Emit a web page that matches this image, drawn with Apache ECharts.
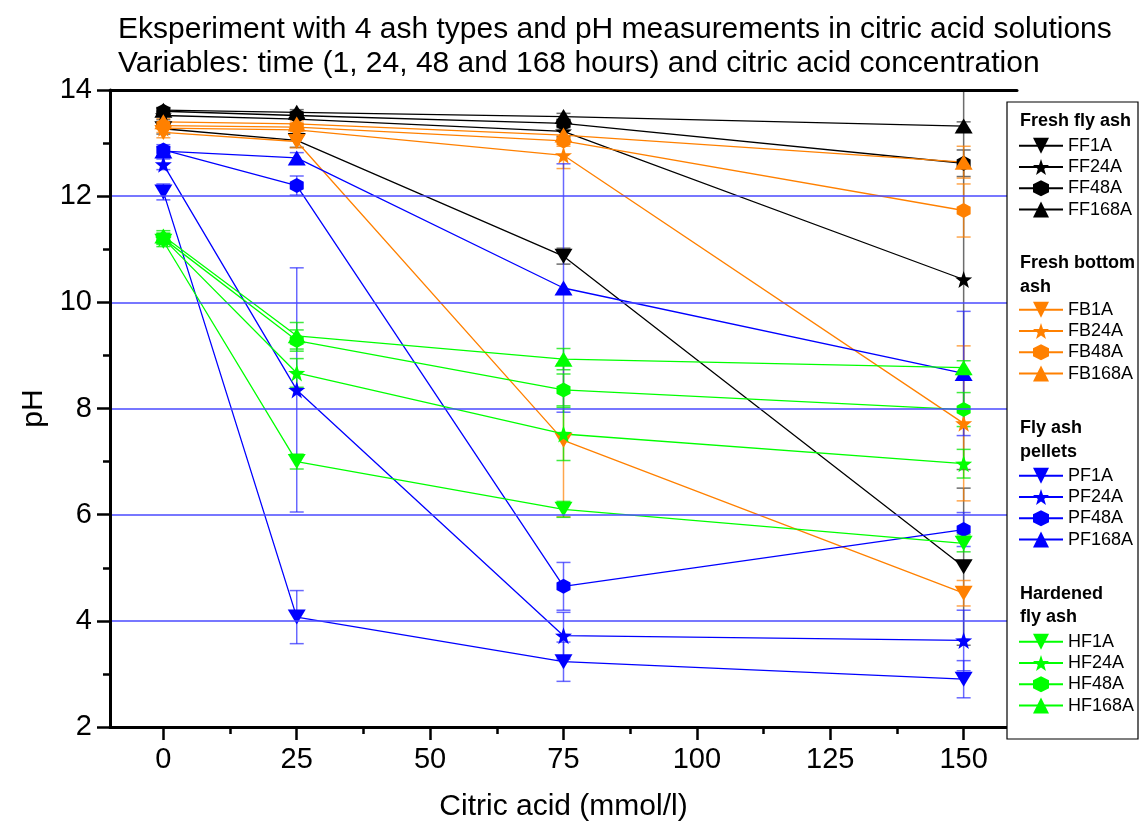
<!DOCTYPE html>
<html>
<head>
<meta charset="utf-8">
<script src="https://cdn.jsdelivr.net/npm/echarts@6/dist/echarts.min.js"></script>
<style>
  html, body { margin: 0; padding: 0; background: #fff; }
  #chart { width: 1139px; height: 827px; }
</style>
</head>
<body>
<div id="chart"></div>
<script>
// citric acid concentration (mmol/l)
var xs = [0, 25, 75, 150];
var xTicks = [0, 25, 50, 75, 100, 125, 150];
var xMinorTicks = [12.5, 37.5, 62.5, 87.5, 112.5, 137.5];

// pH values, one array per series, and the error of each point
var ff1a = [13.27, 13.05, 10.87, 5.02];
var ff24a = [13.52, 13.45, 13.22, 10.43];
var ff48a = [13.6, 13.52, 13.37, 12.62];
var ff168a = [13.62, 13.58, 13.5, 13.32];
var ff1aErr = [0.1, 0.13, 0.15, 1.48];
var ff24aErr = [0.08, 0.1, 0.1, 3.58];
var ff48aErr = [0.06, 0.06, 0.08, 0.25];
var ff168aErr = [0.05, 0.05, 0.06, 0.08];

var fb1a = [13.2, 13.03, 7.4, 4.52];
var fb24a = [13.28, 13.25, 12.77, 7.72];
var fb48a = [13.33, 13.3, 13.04, 11.73];
var fb168a = [13.4, 13.36, 13.15, 12.64];
var fb1aErr = [0.1, 0.12, 1.44, 0.24];
var fb24aErr = [0.08, 0.1, 0.25, 1.46];
var fb48aErr = [0.06, 0.08, 0.1, 0.5];
var fb168aErr = [0.06, 0.06, 0.08, 0.3];

var pf1a = [12.08, 4.07, 3.23, 2.9];
var pf24a = [12.6, 8.35, 3.72, 3.63];
var pf48a = [12.87, 12.2, 4.65, 5.72];
var pf168a = [12.85, 12.72, 10.27, 8.66];
var pf1aErr = [0.15, 0.5, 0.37, 0.35];
var pf24aErr = [0.1, 2.3, 0.44, 0.57];
var pf48aErr = [0.1, 0.18, 0.45, 0.32];
var pf168aErr = [0.08, 0.1, 2.34, 1.17];

var hf1a = [11.15, 7.0, 6.1, 5.46];
var hf24a = [11.2, 8.67, 7.52, 6.96];
var hf48a = [11.2, 9.28, 8.35, 7.98];
var hf168a = [11.25, 9.37, 8.93, 8.77];
var hf1aErr = [0.1, 0.14, 0.15, 0.16];
var hf24aErr = [0.1, 0.27, 0.5, 0.27];
var hf48aErr = [0.1, 0.2, 0.3, 0.32];
var hf168aErr = [0.1, 0.25, 0.2, 0.13];

var yMin = 2, yMax = 14;
var font = "'Liberation Sans', Arial, sans-serif";

// marker shapes
var downTri = 'path://M0,0 L2,0 L1,1.7 Z';
var upTri = 'path://M1,0 L2,1.7 L0,1.7 Z';
var star = 'path://M0,-1 L0.235,-0.324 L0.951,-0.309 L0.380,0.124 L0.588,0.809 L0,0.4 L-0.588,0.809 L-0.380,0.124 L-0.951,-0.309 L-0.235,-0.324 Z';
var hexagon = 'path://M0.866,0 L1.732,0.5 L1.732,1.5 L0.866,2 L0,1.5 L0,0.5 Z';

var groups = [
    {title: 'Fresh fly ash', color: '#000000', err: 'rgba(60,60,60,0.75)', names: ['FF1A', 'FF24A', 'FF48A', 'FF168A'],
        vals: [ff1a, ff24a, ff48a, ff168a], errs: [ff1aErr, ff24aErr, ff48aErr, ff168aErr]},
    {title: 'Fresh bottom\nash', color: '#ff8000', err: 'rgba(255,128,0,0.7)', names: ['FB1A', 'FB24A', 'FB48A', 'FB168A'],
        vals: [fb1a, fb24a, fb48a, fb168a], errs: [fb1aErr, fb24aErr, fb48aErr, fb168aErr]},
    {title: 'Fly ash\npellets', color: '#0000ff', err: 'rgba(40,40,255,0.7)', names: ['PF1A', 'PF24A', 'PF48A', 'PF168A'],
        vals: [pf1a, pf24a, pf48a, pf168a], errs: [pf1aErr, pf24aErr, pf48aErr, pf168aErr]},
    {title: 'Hardened\nfly ash', color: '#00ff00', err: 'rgba(0,230,0,0.75)', names: ['HF1A', 'HF24A', 'HF48A', 'HF168A'],
        vals: [hf1a, hf24a, hf48a, hf168a], errs: [hf1aErr, hf24aErr, hf48aErr, hf168aErr]}
];
var shapes = [downTri, star, hexagon, upTri];
var sizes = [[18, 15], 17, [14, 15], [18, 15]];

// error bars with caps
function errorBars(name, color, vals, errs) {
    return {
        type: 'custom',
        name: name + ' err',
        silent: true,
        clip: true,
        z: 2,
        data: xs.map(function (x, i) { return [x, vals[i], errs[i]]; }),
        encode: {x: 0, y: 1},
        renderItem: function (params, api) {
            var x = api.value(0), y = api.value(1), e = api.value(2);
            var hi = Math.min(y + e, yMax), lo = Math.max(y - e, yMin);
            var top = api.coord([x, hi]);
            var bot = api.coord([x, lo]);
            var w = 7;
            var st = {stroke: color, lineWidth: 1.5};
            return {
                type: 'group',
                children: [
                    {type: 'line', shape: {x1: top[0], y1: top[1], x2: bot[0], y2: bot[1]}, style: st},
                    {type: 'line', shape: {x1: top[0] - w, y1: top[1], x2: top[0] + w, y2: top[1]}, style: st},
                    {type: 'line', shape: {x1: bot[0] - w, y1: bot[1], x2: bot[0] + w, y2: bot[1]}, style: st}
                ]
            };
        }
    };
}

var series = [];
var legends = [];
var headers = [];
var legendTops = [136.7, 300.7, 466.7, 632.7];
var headerTops = [109, 251.7, 416.7, 582.4];

groups.forEach(function (g, gi) {
    g.names.forEach(function (n, i) {
        series.push(errorBars(n, g.err, g.vals[i], g.errs[i]));
        series.push({
            type: 'line',
            name: n,
            data: xs.map(function (x, k) { return [x, g.vals[i][k]]; }),
            symbol: shapes[i],
            symbolSize: sizes[i],
            showSymbol: true,
            z: 3,
            lineStyle: {color: g.color, width: 1.3},
            itemStyle: {color: g.color},
            emphasis: {disabled: true}
        });
    });
    legends.push({
        orient: 'vertical',
        left: 1018,
        top: legendTops[gi],
        padding: 0,
        itemWidth: 44,
        itemHeight: 20,
        itemGap: 3.3,
        z: 60,
        selectedMode: false,
        data: g.names,
        textStyle: {fontFamily: font, fontSize: 18, color: '#000'}
    });
    headers.push({
        type: 'text',
        left: 1020,
        top: headerTops[gi],
        z: 60,
        style: {text: g.title, font: 'bold 18px ' + font, lineHeight: 23.3, fill: '#000'}
    });
});

var myChart = echarts.init(document.getElementById('chart'));
var option = {
    animation: false,
    backgroundColor: '#fff',
    title: {
        text: 'Eksperiment with 4 ash types and pH measurements in citric acid solutions\nVariables: time (1, 24, 48 and 168 hours) and citric acid concentration',
        left: 118,
        top: 13,
        padding: 0,
        textStyle: {fontFamily: font, fontSize: 30, fontWeight: 'normal', color: '#000', lineHeight: 34}
    },
    grid: {left: 110, right: 122, top: 90, bottom: 98},
    legend: legends,
    graphic: [{
        type: 'rect',
        z: 50,
        shape: {x: 1007, y: 102, width: 131, height: 637},
        style: {fill: '#fff', stroke: '#000', lineWidth: 1.2}
    }].concat(headers),
    xAxis: [
        {
            type: 'value',
            min: -10,
            max: 160,
            position: 'bottom',
            z: 5,
            name: 'Citric acid (mmol/l)',
            nameLocation: 'middle',
            nameGap: 65,
            nameTextStyle: {fontFamily: font, fontSize: 30, color: '#000'},
            axisLine: {onZero: false, lineStyle: {color: '#000', width: 3}},
            axisTick: {customValues: xTicks, length: 13, lineStyle: {color: '#000', width: 2.5}},
            axisLabel: {customValues: xTicks, fontFamily: font, fontSize: 29, color: '#000', margin: 18},
            splitLine: {show: false}
        },
        {
            // minor ticks
            type: 'value',
            min: -10,
            max: 160,
            position: 'bottom',
            axisLine: {show: false},
            axisTick: {customValues: xMinorTicks, length: 7, lineStyle: {color: '#000', width: 2.5}},
            axisLabel: {show: false},
            splitLine: {show: false}
        },
        {
            // top border
            type: 'value',
            min: -10,
            max: 160,
            position: 'top',
            z: 5,
            axisLine: {onZero: false, lineStyle: {color: '#000', width: 3}},
            axisTick: {show: false},
            axisLabel: {show: false},
            splitLine: {show: false}
        }
    ],
    yAxis: {
        type: 'value',
        min: yMin,
        max: yMax,
        interval: 2,
        z: 5,
        name: 'pH',
        nameLocation: 'middle',
        nameGap: 60,
        nameTextStyle: {fontFamily: font, fontSize: 30, color: '#000'},
        axisLine: {show: true, onZero: false, lineStyle: {color: '#000', width: 3}},
        axisTick: {length: 13, lineStyle: {color: '#000', width: 2.5}},
        minorTick: {show: true, splitNumber: 2, length: 7, lineStyle: {color: '#000', width: 2.5}},
        axisLabel: {fontFamily: font, fontSize: 29, color: '#000', margin: 18},
        splitLine: {show: true, lineStyle: {color: '#4a4aff', width: 1.5}}
    },
    series: series
};
myChart.setOption(option);
</script>
</body>
</html>
